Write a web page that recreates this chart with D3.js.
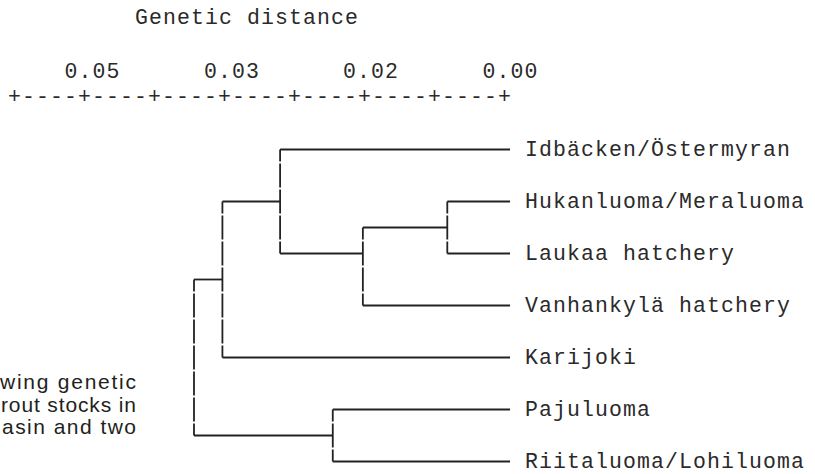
<!DOCTYPE html>
<html>
<head>
<meta charset="utf-8">
<script src="https://cdn.jsdelivr.net/npm/d3@7"></script>
<style>
body { margin: 0; background: #fff; }
.mono { font-family: "Liberation Mono", "Courier New", monospace; font-size: 21.5px; letter-spacing: 1.1px; fill: #2a2a2a; }
.caption { font-family: "Liberation Sans", Arial, sans-serif; font-size: 21px; fill: #231f20; }
.branch { stroke: #222; stroke-width: 1.8; fill: none; }
</style>
</head>
<body>
<div id="tree"></div>
<script>
// stocks, top to bottom
var leafNames = ["Idbäcken/Östermyran", "Hukanluoma/Meraluoma", "Laukaa hatchery",
    "Vanhankylä hatchery", "Karijoki", "Pajuluoma", "Riitaluoma/Lohiluoma"];

// joins n1..n6: upper child, lower child, genetic distance of the join
var joinUpper = ["Hukanluoma/Meraluoma", "n1", "Idbäcken/Östermyran", "n3", "Pajuluoma", "n4"];
var joinLower = ["Laukaa hatchery", "Vanhankylä hatchery", "n2", "Karijoki", "Riitaluoma/Lohiluoma", "n5"];
var joinDistance = [0.0075, 0.0176, 0.0275, 0.0344, 0.0212, 0.0378];

var tickValues = [0.05, 0.0333, 0.0167, 0.00];
var captionLines = ["wing genetic", "rout stocks in", "asin and two"];

/**
 * Constructor for the dendrogram
 */
function Dendrogram(){
    var self = this;
    self.init();
};

Dendrogram.prototype.init = function(){
    var self = this;
    self.width = 815;
    self.height = 474;

    self.svg = d3.select("#tree").append("svg")
        .attr("width", self.width)
        .attr("height", self.height);

    self.x = d3.scaleLinear().domain([0.05, 0]).range([92, 510]);
    // one row = one line of the printout, leaves sit on every second row
    self.y = d3.scaleLinear().domain([0, 12]).range([149.5, 461.5]);
};

Dendrogram.prototype.buildTree = function(){
    var nodes = {};
    leafNames.forEach(function(name){
        nodes[name] = {name: name, dist: 0};
    });
    joinUpper.forEach(function(up, i){
        nodes["n" + (i + 1)] = {name: "n" + (i + 1), dist: joinDistance[i],
            children: [nodes[up], nodes[joinLower[i]]]};
    });
    var root = d3.hierarchy(nodes["n" + joinUpper.length]);

    root.eachAfter(function(d){
        if (!d.children){
            d.row = 2 * leafNames.indexOf(d.data.name);
        }
        else {
            var last = d.children[d.children.length - 1];
            d.row = Math.floor((d.children[0].row + last.row) / 2);
        }
    });
    return root;
};

Dendrogram.prototype.update = function(){
    var self = this;
    var x = self.x, y = self.y;
    var root = self.buildTree();
    var step = y(1) - y(0);

    self.svg.append("text")
        .attr("class", "mono")
        .attr("x", 135)
        .attr("y", 24)
        .text("Genetic distance");

    var axis = self.svg.append("g")
        .attr("transform", "translate(0,78)")
        .call(d3.axisTop(x).tickValues(tickValues).tickFormat(d3.format(".2f"))
            .tickSize(0).tickPadding(0));
    axis.select(".domain").remove();
    axis.selectAll("text").attr("class", "mono");

    // the printed ruler under the labels
    self.svg.append("text")
        .attr("class", "mono")
        .attr("x", 8)
        .attr("y", 103)
        .text("+" + d3.range(7).map(function(){ return "----+"; }).join(""));

    self.svg.selectAll(".hbranch")
        .data(root.descendants().filter(function(d){ return d.parent; }))
        .enter().append("line")
        .attr("class", "branch hbranch")
        .attr("x1", function(d){ return x(d.parent.data.dist); })
        .attr("x2", function(d){ return x(d.data.dist); })
        .attr("y1", function(d){ return y(d.row); })
        .attr("y2", function(d){ return y(d.row); });

    // verticals are made of stacked "|" so they break between lines
    self.svg.selectAll(".vbranch")
        .data(root.descendants().filter(function(d){ return d.children; }))
        .enter().append("line")
        .attr("class", "branch vbranch")
        .attr("x1", function(d){ return x(d.data.dist); })
        .attr("x2", function(d){ return x(d.data.dist); })
        .attr("y1", function(d){ return y(d.children[0].row); })
        .attr("y2", function(d){ return y(d.children[d.children.length - 1].row); })
        .attr("stroke-dasharray", (step - 2) + "," + 2)
        .attr("stroke-dashoffset", step / 2 - 1);

    self.svg.selectAll(".leaf")
        .data(root.leaves())
        .enter().append("text")
        .attr("class", "mono leaf")
        .attr("x", x(0) + 15)
        .attr("y", function(d){ return y(d.row) + 6.5; })
        .text(function(d){ return d.data.name; });

    self.svg.selectAll(".caption")
        .data(captionLines)
        .enter().append("text")
        .attr("class", "caption")
        .attr("x", function(d, i){ return i; })
        .attr("y", function(d, i){ return 389 + i * 22.5; })
        .attr("textLength", function(d, i){ return 136 - i; })
        .attr("lengthAdjust", "spacing")
        .text(function(d){ return d; });
};

var chart = new Dendrogram();
chart.update();
</script>
</body>
</html>
